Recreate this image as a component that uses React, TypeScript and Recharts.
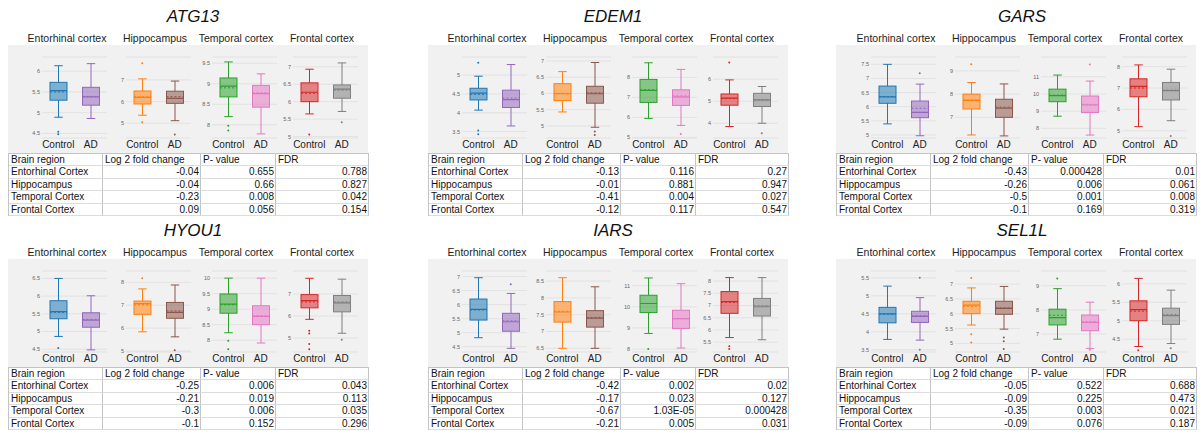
import React from 'react';
import { Bar, CartesianGrid, ComposedChart, Scatter, XAxis, YAxis } from 'recharts';

const genes = ['ATG13', 'EDEM1', 'GARS', 'HYOU1', 'IARS', 'SEL1L'];
const regionTitles = ['Entorhinal cortex', 'Hippocampus', 'Temporal cortex', 'Frontal cortex'];
const groups = ['Control', 'AD'];
const tableHeader = ['Brain region', 'Log 2 fold change', 'P- value', 'FDR'];
const tableRegions = ['Entorhinal Cortex', 'Hippocampus', 'Temporal Cortex', 'Frontal Cortex'];

// per region: [Control, AD], each [low whisker, q1, median, mean, q3, high whisker]
const atg13Box = [
  [[4.89, 5.3, 5.53, 5.5, 5.73, 6.13], [4.86, 5.18, 5.38, 5.39, 5.61, 6.18]],
  [[5.37, 5.89, 6.2, 6.22, 6.49, 7.05], [5.12, 5.92, 6.15, 6.23, 6.48, 6.95]],
  [[8.2, 8.68, 8.94, 8.9, 9.14, 9.53], [7.78, 8.43, 8.76, 8.78, 8.96, 9.24]],
  [[5.65, 6.0, 6.27, 6.24, 6.54, 6.93], [5.72, 6.1, 6.36, 6.33, 6.48, 7.11]],
];
const edem1Box = [
  [[4.07, 4.34, 4.52, 4.49, 4.65, 4.97], [3.65, 4.14, 4.35, 4.39, 4.6, 5.28]],
  [[5.43, 5.78, 5.99, 6.0, 6.3, 6.67], [4.96, 5.7, 5.99, 6.02, 6.22, 6.95]],
  [[5.95, 6.75, 7.35, 7.38, 7.9, 8.73], [5.6, 6.6, 7.03, 7.08, 7.38, 8.4]],
  [[3.85, 4.82, 5.14, 5.12, 5.33, 5.97], [4.0, 4.76, 5.06, 5.06, 5.36, 5.67]],
];
const garsBox = [
  [[5.39, 6.12, 6.35, 6.36, 6.73, 7.5], [4.97, 5.61, 5.8, 5.94, 6.2, 6.8]],
  [[6.24, 7.36, 7.73, 7.75, 8.0, 8.5], [6.2, 7.0, 7.4, 7.44, 7.78, 8.44]],
  [[8.71, 9.55, 9.9, 9.93, 10.28, 11.1], [7.61, 8.92, 9.36, 9.4, 9.88, 10.75]],
  [[5.19, 6.59, 7.08, 7.0, 7.43, 8.08], [5.47, 6.44, 6.88, 6.9, 7.26, 7.88]],
];
const hyou1Box = [
  [[4.86, 5.36, 5.56, 5.54, 5.87, 6.5], [4.48, 5.12, 5.32, 5.34, 5.53, 6.01]],
  [[5.84, 6.6, 7.07, 7.02, 7.18, 7.71], [5.62, 6.43, 6.69, 6.75, 7.12, 7.88]],
  [[8.24, 8.87, 9.16, 9.14, 9.49, 10.0], [7.91, 8.5, 8.77, 8.79, 9.11, 10.0]],
  [[5.85, 6.37, 6.7, 6.64, 6.97, 7.71], [5.22, 6.19, 6.6, 6.64, 6.93, 7.67]],
];
const iarsBox = [
  [[4.82, 5.45, 5.83, 5.81, 6.2, 6.96], [4.44, 5.05, 5.39, 5.42, 5.69, 6.4]],
  [[6.5, 7.28, 7.58, 7.6, 7.89, 8.6], [6.5, 7.13, 7.4, 7.42, 7.62, 8.33]],
  [[8.74, 9.73, 10.16, 10.16, 10.55, 11.37], [8.05, 8.97, 9.44, 9.44, 9.84, 11.1]],
  [[5.69, 6.68, 7.16, 7.13, 7.57, 8.14], [5.6, 6.57, 6.95, 6.99, 7.29, 8.14]],
];
const sel1lBox = [
  [[3.79, 4.25, 4.5, 4.49, 4.68, 5.27], [3.77, 4.26, 4.43, 4.45, 4.57, 4.95]],
  [[5.62, 6.0, 6.29, 6.25, 6.42, 6.87], [5.48, 5.98, 6.18, 6.2, 6.42, 6.92]],
  [[6.79, 7.38, 7.68, 7.78, 8.03, 8.88], [6.41, 7.14, 7.48, 7.52, 7.79, 8.32]],
  [[4.3, 5.0, 5.3, 5.26, 5.54, 6.15], [4.38, 4.9, 5.14, 5.17, 5.34, 5.83]],
];

// points beyond the whiskers, per region: [Control, AD]
const atg13Outliers = [[[4.54, 4.48], []], [[7.77, 5.05], [4.48]], [[7.98, 7.86], []], [[5.06], [5.41]]];
const edem1Outliers = [[[5.33, 3.53, 3.43], []], [[], [4.83, 4.72]], [[], [5.17]], [[6.76], [3.55]]];
const garsOutliers = [[[], [7.18]], [[9.29], []], [[], [11.72]], [[], [4.75]]];
const hyou1Outliers = [[[4.53], []], [[8.17], [5.04]], [[7.98, 7.71], []], [[5.33, 5.21, 4.73, 4.5], [4.93]]];
const iarsOutliers = [[[], [6.73]], [[], []], [[8.0], []], [[5.33, 5.22], []]];
const sel1lOutliers = [[[], [5.5, 3.5]], [[7.2, 5.31, 5.03], [5.2, 5.07, 4.81]], [[9.3], [6.35]], [[4.2], [4.25]]];

// y axis ranges and ticks per region
const atg13Domain = [[4.39, 6.34], [4.32, 8.06], [7.68, 9.65], [4.96, 7.28]];
const edem1Domain = [[3.33, 5.48], [4.63, 7.12], [4.97, 9.02], [3.33, 7.01]];
const garsDomain = [[4.89, 7.76], [6.11, 9.6], [7.44, 12.15], [4.66, 8.45]];
const hyou1Domain = [[4.42, 6.71], [4.96, 8.49], [7.62, 10.23], [4.37, 8.04]];
const iarsDomain = [[4.31, 7.2], [6.39, 8.8], [7.86, 11.7], [5.1, 8.41]];
const sel1lDomain = [[3.44, 5.69], [4.71, 7.44], [6.26, 9.61], [4.15, 6.35]];

const atg13Ticks = [[4.5, 5, 5.5, 6], [5, 6, 7], [8, 8.5, 9, 9.5], [5, 5.5, 6, 6.5, 7]];
const edem1Ticks = [[3.5, 4, 4.5, 5], [5, 5.5, 6, 6.5, 7], [5, 6, 7, 8], [4, 5, 6]];
const garsTicks = [[5, 5.5, 6, 6.5, 7, 7.5], [7, 8, 9], [8, 9, 10, 11], [5, 6, 7, 8]];
const hyou1Ticks = [[4.5, 5, 5.5, 6, 6.5], [5, 6, 7, 8], [8, 8.5, 9, 9.5, 10], [5, 6, 7]];
const iarsTicks = [[4.5, 5, 5.5, 6, 6.5, 7], [6.5, 7, 7.5, 8, 8.5], [8, 9, 10, 11], [5.5, 6, 6.5, 7, 7.5, 8]];
const sel1lTicks = [[3.5, 4, 4.5, 5, 5.5], [5, 5.5, 6, 6.5, 7], [7, 8, 9], [4.5, 5, 5.5, 6]];

// table rows: log2 fold change, p-value, FDR
const atg13Table = [['-0.04', '0.655', '0.788'], ['-0.04', '0.66', '0.827'], ['-0.23', '0.008', '0.042'], ['0.09', '0.056', '0.154']];
const edem1Table = [['-0.13', '0.116', '0.27'], ['-0.01', '0.881', '0.947'], ['-0.41', '0.004', '0.027'], ['-0.12', '0.117', '0.547']];
const garsTable = [['-0.43', '0.000428', '0.01'], ['-0.26', '0.006', '0.061'], ['-0.5', '0.001', '0.008'], ['-0.1', '0.169', '0.319']];
const hyou1Table = [['-0.25', '0.006', '0.043'], ['-0.21', '0.019', '0.113'], ['-0.3', '0.006', '0.035'], ['-0.1', '0.152', '0.296']];
const iarsTable = [['-0.42', '0.002', '0.02'], ['-0.17', '0.023', '0.127'], ['-0.67', '1.03E-05', '0.000428'], ['-0.21', '0.005', '0.031']];
const sel1lTable = [['-0.05', '0.522', '0.688'], ['-0.09', '0.225', '0.473'], ['-0.35', '0.003', '0.021'], ['-0.09', '0.076', '0.187']];

const boxes = [atg13Box, edem1Box, garsBox, hyou1Box, iarsBox, sel1lBox];
const outliers = [atg13Outliers, edem1Outliers, garsOutliers, hyou1Outliers, iarsOutliers, sel1lOutliers];
const domains = [atg13Domain, edem1Domain, garsDomain, hyou1Domain, iarsDomain, sel1lDomain];
const ticks = [atg13Ticks, edem1Ticks, garsTicks, hyou1Ticks, iarsTicks, sel1lTicks];
const tables = [atg13Table, edem1Table, garsTable, hyou1Table, iarsTable, sel1lTable];

const regionColors = [
  ['#1f77b4', '#9467bd'],
  ['#ff7f0e', '#8c564b'],
  ['#2ca02c', '#e377c2'],
  ['#d62728', '#7f7f7f'],
];

const FONT = 'Arial, "Liberation Sans", sans-serif';
const panelX = [0, 420, 829];
const tableX = [8, 428, 836];
const rowY = [0, 214];
const controlX = [58, 142, 228, 309];
const subtitleX = [67, 155, 236, 322];
const colWidths = [94, 98, 75, 93];
const ROW_H = 12.4;

function BoxShape(props: any) {
  const { x, y, width, height, payload, colors } = props;
  const top = Math.min(y, y + height);
  const bottom = Math.max(y, y + height);
  const span = payload.hi - payload.lo;
  const py = (v: number) => top + ((payload.hi - v) / span) * (bottom - top);
  const c = colors[groups.indexOf(payload.name)];
  const cx = x + width / 2;
  const cap = width / 4;
  return (
    <g>
      <line x1={cx} x2={cx} y1={py(payload.hi)} y2={py(payload.q3)} stroke={c} strokeWidth={1} />
      <line x1={cx} x2={cx} y1={py(payload.q1)} y2={py(payload.lo)} stroke={c} strokeWidth={1} />
      <line x1={cx - cap} x2={cx + cap} y1={py(payload.hi)} y2={py(payload.hi)} stroke={c} />
      <line x1={cx - cap} x2={cx + cap} y1={py(payload.lo)} y2={py(payload.lo)} stroke={c} />
      <rect
        x={x}
        y={py(payload.q3)}
        width={width}
        height={py(payload.q1) - py(payload.q3)}
        fill={c}
        fillOpacity={0.55}
        stroke={c}
        strokeWidth={1}
      />
      <line x1={x} x2={x + width} y1={py(payload.med)} y2={py(payload.med)} stroke={c} strokeWidth={1.2} />
      <line
        x1={x}
        x2={x + width}
        y1={py(payload.mean)}
        y2={py(payload.mean)}
        stroke={c}
        strokeWidth={1}
        strokeDasharray="2 2"
      />
    </g>
  );
}

function Subplot({ g, r, left, top }: { g: number; r: number; left: number; top: number }) {
  const colors = regionColors[r];
  const data = groups.map((name, i) => {
    const s = boxes[g][r][i];
    return { name, lo: s[0], q1: s[1], med: s[2], mean: s[3], q3: s[4], hi: s[5] };
  });
  const pts = groups.flatMap((name, i) => outliers[g][r][i].map((v) => ({ name, v })));
  return (
    <div style={{ position: 'absolute', left, top }}>
      <ComposedChart width={83} height={100} data={data} margin={{ top: 5, right: 2, bottom: 0, left: 0 }}>
        <CartesianGrid vertical={false} stroke="#dedede" strokeWidth={0.8} />
        <XAxis
          dataKey="name"
          type="category"
          allowDuplicatedCategory={false}
          axisLine={false}
          tickLine={false}
          tickSize={0}
          tickMargin={3}
          height={14}
          interval={0}
          tick={{ fontSize: 10, fill: '#222', fontFamily: FONT }}
        />
        <YAxis
          type="number"
          domain={domains[g][r]}
          ticks={ticks[g][r]}
          allowDataOverflow
          axisLine={false}
          tickLine={false}
          tickSize={0}
          tickMargin={2}
          width={16}
          interval={0}
          tick={{ fontSize: 5.5, fill: '#666', fontFamily: FONT }}
        />
        <Bar
          dataKey={(d: any) => [d.lo, d.hi]}
          barSize={17}
          isAnimationActive={false}
          shape={(p: any) => <BoxShape {...p} colors={colors} />}
        />
        <Scatter
          data={pts}
          dataKey="v"
          isAnimationActive={false}
          shape={(p: any) => (
            <circle cx={p.cx} cy={p.cy} r={1} fill={colors[groups.indexOf(p.payload.name)]} />
          )}
        />
      </ComposedChart>
    </div>
  );
}

function StatsTable({ g, left, top }: { g: number; left: number; top: number }) {
  const rows = [tableHeader, ...tableRegions.map((name, i) => [name, ...tables[g][i]])];
  return (
    <div
      style={{
        position: 'absolute',
        left,
        top,
        display: 'grid',
        gridTemplateColumns: colWidths.map((w) => `${w}px`).join(' '),
        gridAutoRows: `${ROW_H}px`,
        borderTop: '1px solid #c4c4c4',
        borderLeft: '1px solid #c4c4c4',
        background: '#fff',
        fontFamily: FONT,
        fontSize: 10,
        color: '#111',
      }}
    >
      {rows.flatMap((row, ri) =>
        row.map((cell, ci) => (
          <div
            key={`${ri}-${ci}`}
            style={{
              boxSizing: 'border-box',
              borderRight: '1px solid #c4c4c4',
              borderBottom: '1px solid #dcdcdc',
              padding: '0 1px 0 2px',
              lineHeight: `${ROW_H - 1}px`,
              whiteSpace: 'nowrap',
              overflow: 'hidden',
              textAlign: ri > 0 && ci > 0 ? 'right' : 'left',
            }}
          >
            {cell}
          </div>
        )),
      )}
    </div>
  );
}

export default function App() {
  return (
    <div
      style={{
        position: 'absolute',
        left: 0,
        top: 0,
        width: 1202,
        height: 434,
        background: '#fff',
        fontFamily: FONT,
        overflow: 'hidden',
      }}
    >
      {genes.map((gene, g) => {
        const px = panelX[g % 3];
        const py = rowY[Math.floor(g / 3)];
        return (
          <React.Fragment key={gene}>
            <div
              style={{
                position: 'absolute',
                left: tableX[g % 3],
                top: py + 45,
                width: 360,
                height: 108,
                background: '#f1f1f1',
              }}
            />
            <div
              style={{
                position: 'absolute',
                left: px + 193 - 60,
                top: py + 7,
                width: 120,
                textAlign: 'center',
                fontSize: 17,
                lineHeight: '20px',
                fontStyle: 'italic',
                color: '#111',
              }}
            >
              {gene}
            </div>
            {regionTitles.map((t, r) => (
              <div
                key={t}
                style={{
                  position: 'absolute',
                  left: px + subtitleX[r] - 50,
                  top: py + 31,
                  width: 100,
                  textAlign: 'center',
                  fontSize: 10.5,
                  lineHeight: '14px',
                  color: '#222',
                }}
              >
                {t}
              </div>
            ))}
            {regionTitles.map((t, r) => (
              <Subplot key={t + 'p'} g={g} r={r} left={px + controlX[r] - 16.25 - 16} top={py + 52} />
            ))}
            <StatsTable g={g} left={tableX[g % 3]} top={py + 153} />
          </React.Fragment>
        );
      })}
    </div>
  );
}
